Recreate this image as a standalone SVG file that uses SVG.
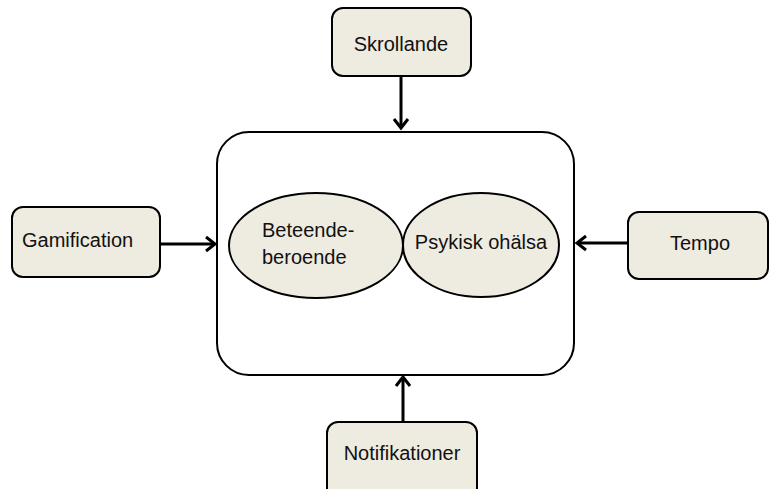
<svg xmlns="http://www.w3.org/2000/svg" width="769" height="489" viewBox="0 0 769 489">
<style>
.box{fill:#EEEBE0;stroke:#000;stroke-width:2}
.t{font-family:"Liberation Sans",Arial,sans-serif;font-size:20px;fill:#111}
.c{stroke:#000;stroke-width:3;fill:none}
.h{stroke:#000;stroke-width:3;fill:none;stroke-linejoin:miter}
</style>
<rect width="769" height="489" fill="#fff"/>
<g id="main">
<rect x="217" y="132" width="357" height="243" rx="32" fill="#fff" stroke="#000" stroke-width="2"/>
</g>
<g id="beteendeberoende">
<ellipse class="box" cx="316" cy="245.5" rx="87" ry="52.5"/>
<text class="t" x="262" y="237">Beteende-</text>
<text class="t" x="262" y="264">beroende</text>
</g>
<g id="psykisk">
<ellipse class="box" cx="481" cy="245" rx="78" ry="52"/>
<text class="t" x="481" y="249" text-anchor="middle">Psykisk ohälsa</text>
</g>
<g id="skrollande">
<rect class="box" x="332" y="8" width="139" height="68" rx="11"/>
<text class="t" x="401" y="51" text-anchor="middle">Skrollande</text>
</g>
<g id="gamification">
<rect class="box" x="12" y="207" width="148" height="70" rx="11"/>
<text class="t" x="22" y="247">Gamification</text>
</g>
<g id="tempo">
<rect class="box" x="628" y="212" width="140" height="67" rx="11"/>
<text class="t" x="700" y="250" text-anchor="middle">Tempo</text>
</g>
<g id="notifikationer">
<rect class="box" x="327" y="422" width="150" height="80" rx="11"/>
<text class="t" x="402" y="460" text-anchor="middle">Notifikationer</text>
</g>
<g id="connectors">
<line class="c" x1="401" y1="76" x2="401" y2="128"/>
<polyline class="h" points="394,119 401,128 408,119"/>
<line class="c" x1="160" y1="244" x2="215" y2="244"/>
<polyline class="h" points="206,237 215,244 206,251"/>
<line class="c" x1="628" y1="243" x2="577" y2="243"/>
<polyline class="h" points="586,236 577,243 586,250"/>
<line class="c" x1="403" y1="422" x2="403" y2="377"/>
<polyline class="h" points="396,386 403,377 410,386"/>
</g>
</svg>
